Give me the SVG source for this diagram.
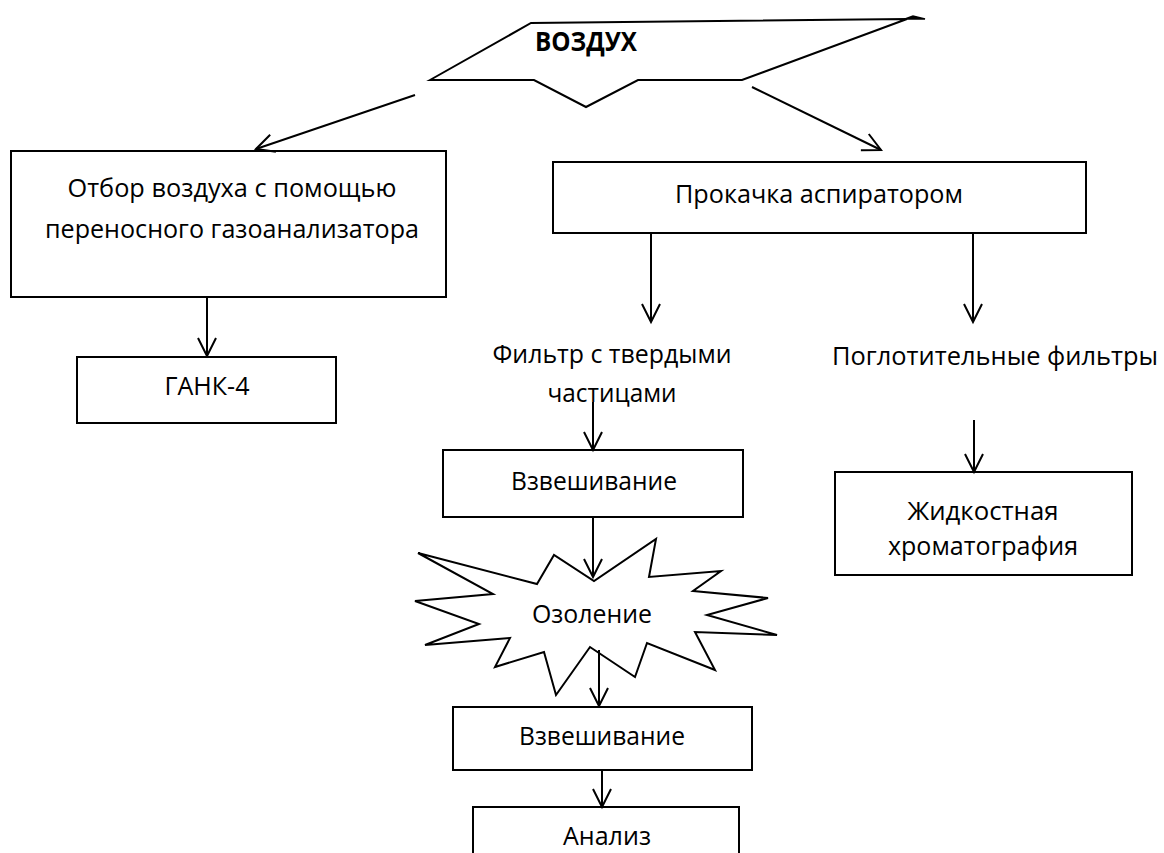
<svg xmlns="http://www.w3.org/2000/svg" width="1164" height="853" viewBox="0 0 1164 853">
<style>
.shape{fill:#fff;stroke:#000;stroke-width:2}
.t{font-family:"Open Sans","Noto Sans","DejaVu Sans",sans-serif;font-size:25px;fill:#000;text-anchor:middle}
.b{font-weight:bold;font-size:26px;text-anchor:start}
.c{stroke:#000;stroke-width:2;fill:none;marker-end:url(#arr)}
</style>
<defs>
<marker id="arr" markerUnits="userSpaceOnUse" markerWidth="24" markerHeight="24" viewBox="-20 -12 24 24" refX="0" refY="0" orient="auto">
<path d="M-18,-9 L0,0 L-18,9" fill="none" stroke="#000" stroke-width="2"/>
</marker>
</defs>
<rect width="1164" height="853" fill="#fff"/>
<g id="air">
<polygon class="shape" points="430,80 531,23 907,19 742,80 638,80 586,107 534,80"/>
<path d="M905,19 L913,16 L925,19 Z" fill="#000" stroke="#000" stroke-width="1.5"/>
<text class="t b" x="535" y="51" textLength="102" lengthAdjust="spacingAndGlyphs">ВОЗДУХ</text>
</g>
<g id="sampling">
<rect class="shape" x="11" y="151" width="435" height="146"/>
<text class="t" x="232" y="197" textLength="329" lengthAdjust="spacingAndGlyphs">Отбор воздуха с помощью</text>
<text class="t" x="232" y="238" textLength="374" lengthAdjust="spacingAndGlyphs">переносного газоанализатора</text>
</g>
<g id="gank">
<rect class="shape" x="77" y="357" width="259" height="66"/>
<text class="t" x="207" y="395" textLength="85" lengthAdjust="spacingAndGlyphs">ГАНК-4</text>
</g>
<g id="pump">
<rect class="shape" x="553" y="162" width="533" height="71"/>
<text class="t" x="819" y="203" textLength="288" lengthAdjust="spacingAndGlyphs">Прокачка аспиратором</text>
</g>
<g id="filter">
<text class="t" x="612" y="363" textLength="239" lengthAdjust="spacingAndGlyphs">Фильтр с твердыми</text>
<text class="t" x="612" y="402" textLength="129" lengthAdjust="spacingAndGlyphs">частицами</text>
</g>
<g id="absorb">
<text class="t" x="995" y="365" textLength="326" lengthAdjust="spacingAndGlyphs">Поглотительные фильтры</text>
</g>
<g id="weigh1">
<rect class="shape" x="443" y="450" width="300" height="67"/>
<text class="t" x="594" y="490" textLength="166" lengthAdjust="spacingAndGlyphs">Взвешивание</text>
</g>
<g id="chrom">
<rect class="shape" x="835" y="472" width="297" height="103"/>
<text class="t" x="983" y="520" textLength="151" lengthAdjust="spacingAndGlyphs">Жидкостная</text>
<text class="t" x="983" y="555" textLength="190" lengthAdjust="spacingAndGlyphs">хроматография</text>
</g>
<g id="ash">
<polygon class="shape" points="418,553 537,584 554,555 594,581 656,539 649,577 721,571 693,591 768,598 707,615 777,635 695,632 715,670 647,643 635,677 590,647 556,695 544,652 495,667 510,638 425,645 479,624 415,601 493,594"/>
<text class="t" x="592" y="623" textLength="120" lengthAdjust="spacingAndGlyphs">Озоление</text>
</g>
<g id="weigh2">
<rect class="shape" x="453" y="707" width="299" height="63"/>
<text class="t" x="602" y="745" textLength="166" lengthAdjust="spacingAndGlyphs">Взвешивание</text>
</g>
<g id="analysis">
<rect class="shape" x="473" y="807" width="266" height="60"/>
<text class="t" x="607" y="845" textLength="88" lengthAdjust="spacingAndGlyphs">Анализ</text>
</g>
<g id="connectors">
<line class="c" x1="415" y1="95" x2="256" y2="149"/>
<line class="c" x1="752" y1="87" x2="881" y2="150"/>
<line class="c" x1="207" y1="297" x2="207" y2="356"/>
<line class="c" x1="651" y1="233" x2="651" y2="322"/>
<line class="c" x1="973" y1="233" x2="973" y2="322"/>
<line class="c" x1="593" y1="402" x2="593" y2="450"/>
<line class="c" x1="974" y1="420" x2="974" y2="472"/>
<line class="c" x1="593" y1="517" x2="593" y2="577"/>
<line class="c" x1="599" y1="650" x2="599" y2="706"/>
<line class="c" x1="602" y1="770" x2="602" y2="807"/>
</g>
</svg>
